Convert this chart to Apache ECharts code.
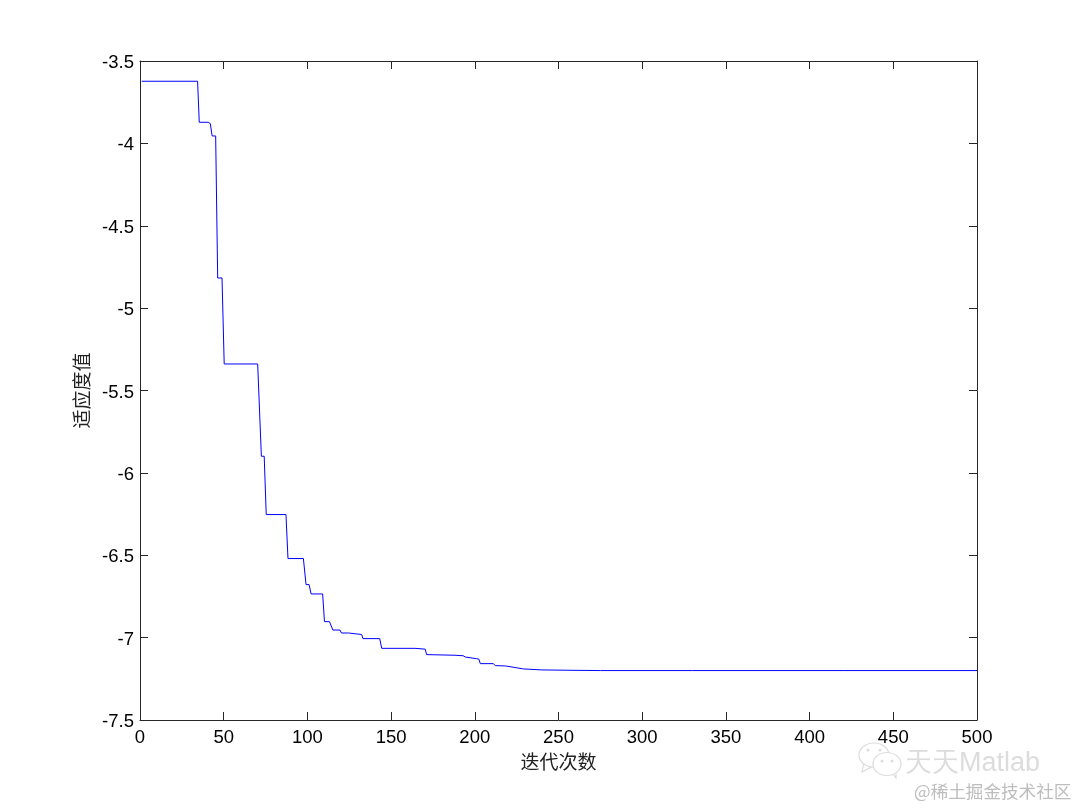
<!DOCTYPE html>
<html>
<head>
<meta charset="utf-8">
<style>html,body{margin:0;padding:0;background:#fff}#c{width:1080px;height:810px}</style>
<script src="https://cdn.jsdelivr.net/npm/echarts@6/dist/echarts.min.js"></script>
</head>
<body>
<div id="c"></div>
<script>
const xTicks = [0, 500];
const yRange = [-7.5, -3.5];
const iterations = [1,34.4,35.4,40.8,42,43.1,45.2,46.4,49,50.3,70.3,72.5,74.2,75.4,87.2,88.4,97.6,99.2,101,102.2,109.1,110.2,113.2,115.2,119.5,120.3,124.6,125.2,132.4,133.2,143.2,144.4,164.3,170.4,171.2,188.2,193,194.5,201,202.4,203.3,211,212.4,218.4,219.4,229,240,255,275,330,420,500];
const fitness = [-3.623,-3.623,-3.872,-3.872,-3.88,-3.955,-3.955,-4.817,-4.817,-5.339,-5.339,-5.899,-5.899,-6.253,-6.253,-6.52,-6.52,-6.678,-6.678,-6.735,-6.735,-6.903,-6.903,-6.954,-6.954,-6.972,-6.972,-6.981,-6.981,-7.006,-7.006,-7.065,-7.065,-7.07,-7.103,-7.107,-7.11,-7.118,-7.128,-7.13,-7.158,-7.158,-7.17,-7.172,-7.182,-7.19,-7.196,-7.198,-7.2,-7.2,-7.2,-7.2];
const xName = '迭代次数';
const yName = '适应度值';
const watermarkTop = '天天Matlab';
const watermarkBottom = '@稀土掘金技术社区';

const line = {lineStyle:{color:'#262626',width:1}};
const tick = {show:true,inside:true,length:8,lineStyle:{color:'#262626',width:1}};
const label = {color:'#000',fontFamily:'Liberation Sans',fontSize:18.5};
const wm = '#dcdcdc';

const chart = echarts.init(document.getElementById('c'), null, {renderer:'canvas'});
chart.setOption({
  animation:false,
  backgroundColor:'#fff',
  grid:{left:140,right:103,top:61,bottom:90,show:false},
  xAxis:[
    {type:'value',min:xTicks[0],max:xTicks[1],interval:50,position:'bottom',
     axisLine:{show:true,onZero:false,...line},axisTick:tick,splitLine:{show:false},
     axisLabel:{...label,margin:8,hideOverlap:false},
     name:xName,nameLocation:'middle',nameGap:29,
     nameTextStyle:{fontFamily:'Noto Sans CJK SC',fontSize:19,color:'#222'}},
    {type:'value',min:xTicks[0],max:xTicks[1],interval:50,position:'top',
     axisLine:{show:true,onZero:false,...line},axisTick:tick,splitLine:{show:false},axisLabel:{show:false}}
  ],
  yAxis:[
    {type:'value',min:yRange[0],max:yRange[1],interval:0.5,position:'left',
     axisLine:{show:true,onZero:false,...line},axisTick:tick,splitLine:{show:false},
     axisLabel:{...label,margin:6,hideOverlap:false,formatter:'{a|{value}}',
       rich:{a:{...label,padding:[4,0,0,0]}}},
     name:yName,nameLocation:'middle',nameGap:44,nameRotate:90,
     nameTextStyle:{fontFamily:'Noto Sans CJK SC',fontSize:19,color:'#222'}},
    {type:'value',min:yRange[0],max:yRange[1],interval:0.5,position:'right',
     axisLine:{show:true,onZero:false,...line},axisTick:tick,splitLine:{show:false},axisLabel:{show:false}}
  ],
  series:[{
    type:'line',xAxisIndex:0,yAxisIndex:0,showSymbol:false,symbol:'none',
    lineStyle:{color:'#0000ff',width:1},
    data:iterations.map((x,i)=>[x,fitness[i]])
  }],
  graphic:[
    {type:'text',left:905,top:750,style:{text:watermarkTop,fontFamily:'Liberation Sans',fontSize:27,fill:wm}},
    {type:'text',left:914,top:783,style:{text:watermarkBottom,fontFamily:'Noto Sans CJK SC',fontSize:17.6,fill:'#bdbdbd'}},
    {type:'polygon',shape:{points:[[864,762],[862,772],[873,766]]},style:{fill:'#fff',stroke:wm,lineWidth:1.2}},
    {type:'ellipse',shape:{cx:874,cy:755,rx:15,ry:12},style:{fill:'#fff',stroke:wm,lineWidth:1.2}},
    {type:'polygon',shape:{points:[[890,770],[896,778],[896,766]]},style:{fill:'#fff',stroke:wm,lineWidth:1.2}},
    {type:'ellipse',shape:{cx:887,cy:764,rx:14,ry:11.5},style:{fill:'#fff',stroke:wm,lineWidth:1.2}},
    {type:'circle',shape:{cx:868,cy:750,r:1.5},style:{fill:wm}},
    {type:'circle',shape:{cx:880,cy:750,r:1.5},style:{fill:wm}},
    {type:'circle',shape:{cx:882,cy:761,r:1.5},style:{fill:wm}},
    {type:'circle',shape:{cx:892,cy:761,r:1.5},style:{fill:wm}}
  ]
});
</script>
</body>
</html>
